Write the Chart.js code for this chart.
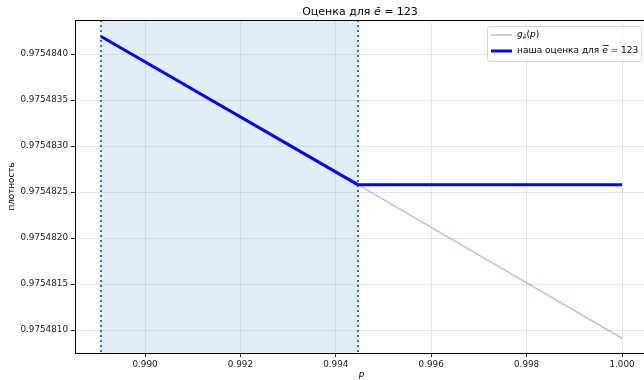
<!DOCTYPE html>
<html>
<head>
<meta charset="utf-8">
<script src="https://cdn.jsdelivr.net/npm/chart.js@4.4.1/dist/chart.umd.min.js"></script>
<style>
  html, body { margin: 0; padding: 0; background: #fff; overflow: hidden; }
  #wrap { width: 644px; height: 380px; overflow: hidden; position: relative; }
  #c { display: block; }
</style>
</head>
<body>
<div id="wrap"><canvas id="c" width="649" height="380"></canvas></div>
<script>
// p grid points and density values
const pValues   = [0.98908, 0.99446, 1.000];
const gValues   = [0.97548419, 0.97548258, 0.97548091];
const estValues = [0.97548419, 0.97548258, 0.97548258];

// confidence interval bounds for p
const pLow  = 0.98908;
const pHigh = 0.99446;

// axis ticks
const xTicks = [0.990, 0.992, 0.994, 0.996, 0.998, 1.000];
const yTicks = [0.9754810, 0.9754815, 0.9754820, 0.9754825, 0.9754830, 0.9754835, 0.9754840];

const FONT = "'DejaVu Sans', sans-serif";
const toPts = (xs, ys) => xs.map((x, i) => ({ x: x, y: ys[i] }));

const spanPlugin = {
  id: 'span',
  beforeDraw(chart) {
    const { ctx, chartArea: a, scales: { x } } = chart;
    ctx.save();
    ctx.fillStyle = 'rgba(31,119,180,0.13)';
    const x0 = x.getPixelForValue(pLow), x1 = x.getPixelForValue(pHigh);
    ctx.fillRect(x0, a.top, x1 - x0, a.bottom - a.top);
    ctx.restore();
  },
  beforeDatasetsDraw(chart) {
    const { ctx, chartArea: a, scales: { x } } = chart;
    ctx.save();
    ctx.strokeStyle = '#1f77b4';
    ctx.lineWidth = 2;
    ctx.lineCap = 'butt';
    ctx.setLineDash([2, 3]);
    [pLow, pHigh].forEach(v => {
      const px = Math.round(x.getPixelForValue(v));
      ctx.beginPath();
      ctx.moveTo(px, a.top);
      ctx.lineTo(px, a.bottom);
      ctx.stroke();
    });
    ctx.restore();
  },
  afterDraw(chart) {
    const { ctx, chartArea: a } = chart;
    ctx.save();
    // top spine
    ctx.strokeStyle = '#000';
    ctx.lineWidth = 1;
    ctx.beginPath();
    ctx.moveTo(a.left, a.top + 0.5);
    ctx.lineTo(a.right, a.top + 0.5);
    ctx.stroke();

    // title
    ctx.fillStyle = '#000';
    ctx.textBaseline = 'alphabetic';
    const parts = [
      { t: 'Оценка для ', f: '11px ' + FONT },
      { t: 'ē', f: 'italic 11px ' + FONT },
      { t: ' = 123', f: '11px ' + FONT }
    ];
    let w = 0;
    parts.forEach(p => { ctx.font = p.f; w += ctx.measureText(p.t).width; });
    let tx = (a.left + 643) / 2 - w / 2 + 1;
    parts.forEach(p => { ctx.font = p.f; ctx.fillText(p.t, tx, 15); tx += ctx.measureText(p.t).width; });

    // legend
    const lx = 487, ly = 26, lw = 154, lh = 35;
    ctx.fillStyle = 'rgba(255,255,255,0.8)';
    ctx.strokeStyle = '#d6d6d6';
    ctx.lineWidth = 1;
    ctx.beginPath();
    ctx.roundRect(lx + 0.5, ly + 0.5, lw, lh, 3);
    ctx.fill();
    ctx.stroke();

    const ds = chart.data.datasets;
    const rows = [35, 51];
    rows.forEach((ry, i) => {
      ctx.strokeStyle = ds[i].borderColor;
      ctx.lineWidth = ds[i].borderWidth;
      ctx.beginPath();
      ctx.moveTo(491, ry);
      ctx.lineTo(512, ry);
      ctx.stroke();
    });
    ctx.fillStyle = '#000';
    ctx.textBaseline = 'middle';
    // row 1: g_ē(p)
    let x = 517;
    ctx.font = 'italic 9px ' + FONT;
    ctx.fillText('g', x, 35); x += ctx.measureText('g').width;
    ctx.font = 'italic 6px ' + FONT;
    ctx.fillText('ē', x, 37.5); x += ctx.measureText('ē').width;
    ctx.font = '9px ' + FONT;
    ctx.fillText('(', x, 35); x += ctx.measureText('(').width;
    ctx.font = 'italic 9px ' + FONT;
    ctx.fillText('p', x, 35); x += ctx.measureText('p').width;
    ctx.font = '9px ' + FONT;
    ctx.fillText(')', x, 35);
    // row 2
    x = 517;
    ctx.font = '9px ' + FONT;
    ctx.fillText('наша оценка для ', x, 51); x += ctx.measureText('наша оценка для ').width;
    ctx.font = 'italic 9px ' + FONT;
    const ew = ctx.measureText('e').width;
    ctx.fillText('e', x, 51);
    ctx.strokeStyle = '#000';
    ctx.lineWidth = 0.8;
    ctx.beginPath();
    ctx.moveTo(x + 0.5, 45.5);
    ctx.lineTo(x + ew + 1, 45.5);
    ctx.stroke();
    x += ew;
    ctx.font = '9px ' + FONT;
    ctx.fillText(' = 123', x, 51);
    ctx.restore();
  }
};

new Chart(document.getElementById('c'), {
  type: 'line',
  data: {
    datasets: [
      {
        label: 'g_ē(p)',
        data: toPts(pValues, gValues),
        borderColor: 'rgba(0,0,255,0.25)',
        borderWidth: 1.6,
        pointRadius: 0,
        tension: 0,
        order: 2
      },
      {
        label: 'наша оценка для ē = 123',
        data: toPts(pValues, estValues),
        borderColor: '#0000ff',
        borderWidth: 3,
        pointRadius: 0,
        tension: 0,
        order: 1
      }
    ]
  },
  options: {
    responsive: false,
    animation: false,
    devicePixelRatio: 1,
    layout: { padding: { left: 0, top: 20, right: 1, bottom: 0 } },
    plugins: {
      legend: { display: false },
      title: { display: false },
      tooltip: { enabled: false }
    },
    scales: {
      x: {
        type: 'linear',
        min: 0.988532,
        max: 1.000545,
        afterBuildTicks: s => { s.ticks = xTicks.map(v => ({ value: v })); },
        afterFit: s => { s.height = 27; },
        ticks: {
          callback: v => v.toFixed(3),
          color: '#222',
          font: { family: FONT, size: 8.8 },
          padding: 2,
          maxRotation: 0,
          autoSkip: false
        },
        grid: {
          color: 'rgba(176,176,176,0.3)',
          lineWidth: 1,
          tickLength: 4,
          tickColor: '#222',
          tickWidth: 1
        },
        border: { display: true, color: '#000', width: 1 },
        title: {
          display: true,
          text: 'p',
          color: '#000',
          font: { family: FONT, size: 8.8, style: 'italic', lineHeight: 1 },
          padding: { top: 0, bottom: 0.5 }
        }
      },
      y: {
        type: 'linear',
        min: 0.97548075,
        max: 0.97548437,
        afterBuildTicks: s => { s.ticks = yTicks.map(v => ({ value: v })); },
        afterFit: s => { s.width = 75; },
        ticks: {
          callback: v => v.toFixed(7),
          color: '#222',
          font: { family: FONT, size: 8.8 },
          padding: 3,
          autoSkip: false
        },
        grid: {
          color: 'rgba(176,176,176,0.3)',
          lineWidth: 1,
          tickLength: 4,
          tickColor: '#222',
          tickWidth: 1
        },
        border: { display: true, color: '#000', width: 1 },
        title: {
          display: true,
          text: 'плотность',
          color: '#000',
          font: { family: FONT, size: 8.8, lineHeight: 1 },
          padding: { top: 7, bottom: 0 }
        }
      }
    }
  },
  plugins: [spanPlugin]
});
</script>
</body>
</html>
